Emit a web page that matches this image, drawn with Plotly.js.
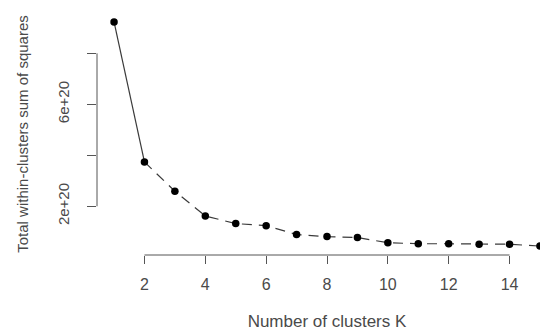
<!DOCTYPE html>
<html>
<head>
<meta charset="utf-8">
<script src="https://cdn.plot.ly/plotly-3.0.1.min.js"></script>
<style>
html, body { margin:0; padding:0; overflow:hidden; background:#fff; width:540px; height:335px; }
#chart { width:557px; height:335px; }
</style>
</head>
<body>
<div id="chart"></div>
<script>
// Data
var clustersK = [1,2,3,4,5,6,7,8,9,10,11,12,13,14,15];
var withinSS  = [9.23e20,3.74e20,2.59e20,1.62e20,1.32e20,1.24e20,0.89e20,0.81e20,0.77e20,0.57e20,0.53e20,0.53e20,0.51e20,0.51e20,0.44e20];
var xTickVals = [2,4,6,8,10,12,14];
var xTickText = ["2","4","6","8","10","12","14"];
var yTickVals = [2e20,4e20,6e20,8e20];
var yTickText = ["2e+20","","6e+20",""];

function rRange(arr){
  var mn = Math.min.apply(null, arr), mx = Math.max.apply(null, arr);
  var d = (mx - mn) * 0.04;
  return [mn - d, mx + d];
}

var lineCol = '#3a3a3a';
var textCol = '#4a4a4a';
var axisCol = '#555';

var traces = [
  { x: clustersK.slice(0,2), y: withinSS.slice(0,2), type:'scatter', mode:'lines',
    line:{color:lineCol, width:1.2}, hoverinfo:'skip', cliponaxis:true },
  { x: clustersK.slice(1), y: withinSS.slice(1), type:'scatter', mode:'lines',
    line:{color:lineCol, width:1.2, dash:'10px,7px'}, hoverinfo:'skip', cliponaxis:true },
  { x: clustersK, y: withinSS, type:'scatter', mode:'markers',
    marker:{color:'#000', size:7.5, line:{width:0}}, cliponaxis:true }
];

var layout = {
  width:557, height:335,
  margin:{l:97, r:0, t:13, b:80},
  paper_bgcolor:'#fff', plot_bgcolor:'#fff',
  showlegend:false,
  font:{family:'Liberation Sans, Arial, sans-serif', color:textCol},
  xaxis:{
    range: rRange(clustersK),
    showgrid:false, zeroline:false, showline:false,
    tickmode:'array', tickvals:xTickVals, ticktext:xTickText,
    ticks:'outside', ticklen:8, tickwidth:1, tickcolor:axisCol,
    tickfont:{size:16, color:textCol},
    ticklabelstandoff:7,
    title:{text:'Number of clusters K', font:{size:17, color:textCol}, standoff:22}
  },
  yaxis:{
    range: rRange(withinSS),
    showgrid:false, zeroline:false, showline:false,
    tickmode:'array', tickvals:yTickVals, ticktext:yTickText,
    ticks:'outside', ticklen:9, tickwidth:1, tickcolor:axisCol,
    tickangle:-90,
    tickfont:{size:15, color:textCol},
    ticklabelstandoff:12,
    title:{text:'Total within-clusters sum of squares', font:{size:15, color:textCol}, standoff:22}
  },
  shapes:[
    { type:'line', xref:'x', yref:'paper', x0:xTickVals[0], x1:xTickVals[xTickVals.length-1], y0:0, y1:0,
      line:{color:axisCol, width:1} },
    { type:'line', xref:'paper', yref:'y', x0:0, x1:0, y0:yTickVals[0], y1:yTickVals[yTickVals.length-1],
      line:{color:axisCol, width:1} }
  ]
};

Plotly.newPlot('chart', traces, layout, {staticPlot:true, displayModeBar:false});
</script>
</body>
</html>
